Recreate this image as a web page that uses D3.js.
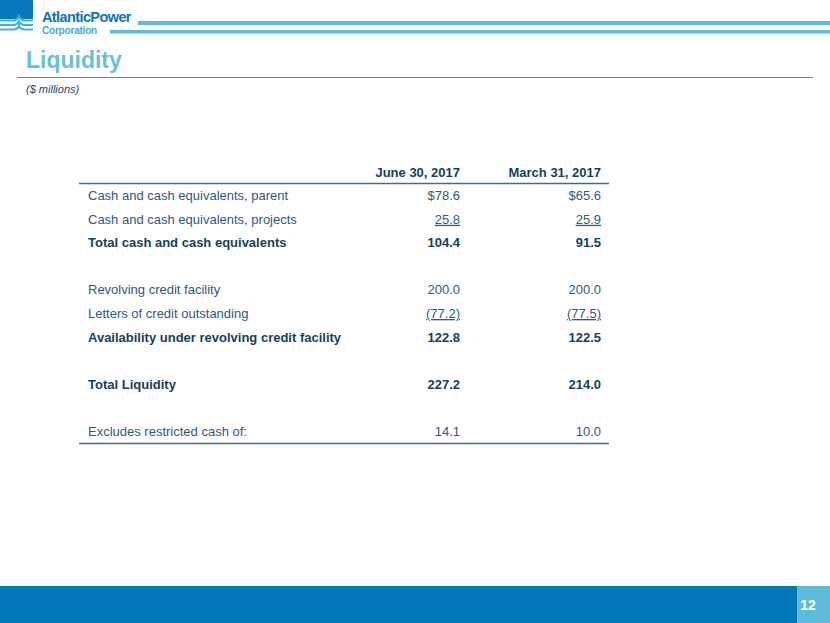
<!DOCTYPE html>
<html>
<head>
<meta charset="utf-8">
<script src="https://cdn.jsdelivr.net/npm/d3@7"></script>
<style>
  html, body { margin: 0; padding: 0; background: #fff; }
  svg { display: block; font-family: "Liberation Sans", Arial, sans-serif; }
</style>
</head>
<body>
<svg id="slide" width="830" height="623"></svg>
<script>
// table data
const columns = ['June 30, 2017', 'March 31, 2017'];
const rowLabels = [
  'Cash and cash equivalents, parent',
  'Cash and cash equivalents, projects',
  'Total cash and cash equivalents',
  '',
  'Revolving credit facility',
  'Letters of credit outstanding',
  'Availability  under revolving credit facility',
  '',
  'Total Liquidity',
  '',
  'Excludes restricted cash of:'
];
const june  = [78.6, 25.8, 104.4, null, 200.0, -77.2, 122.8, null, 227.2, null, 14.1];
const march = [65.6, 25.9, 91.5, null, 200.0, -77.5, 122.5, null, 214.0, null, 10.0];

// styling by row
const boldRows = [2, 6, 8];
const underlineRows = [1, 5];
const dollarRows = [0];

const svg = d3.select('#slide');
const W = 830, H = 623;
const dark = '#143f61', mid = '#2d5b7c', light = '#5cbcd9';

// header / logo
const logo = svg.append('g');
logo.append('rect').attr('x', 0).attr('y', 0).attr('width', 33).attr('height', 19).attr('fill', '#0a78bd');
[20.5, 25, 29.5].forEach((y, i) => {
  logo.append('path')
    .attr('d', `M0,${y} L14,${y} Q${18 + i},${y - 1} 19,${y - 4 - i} Q${20 - i},${y - 1} 24,${y} L33,${y}`)
    .attr('fill', 'none').attr('stroke', '#3fb0e0').attr('stroke-width', 2);
});
logo.append('text').attr('x', 42).attr('y', 21.5).attr('font-size', 14.5).attr('font-weight', 'bold')
  .attr('fill', '#0c74b8').attr('letter-spacing', -0.6).text('AtlanticPower');
logo.append('text').attr('x', 42).attr('y', 34).attr('font-size', 10).attr('font-weight', 'bold')
  .attr('fill', '#3fa9dc').attr('letter-spacing', -0.2).text('Corporation');

svg.append('rect').attr('x', 138).attr('y', 21).attr('width', W - 138).attr('height', 4).attr('fill', light);
svg.append('rect').attr('x', 110).attr('y', 30).attr('width', W - 110).attr('height', 3.5).attr('fill', light);

svg.append('text').attr('x', 26).attr('y', 68).attr('font-size', 23).attr('font-weight', 'bold')
  .attr('fill', '#69c0dd').text('Liquidity');
svg.append('line').attr('x1', 17).attr('x2', 813).attr('y1', 77.5).attr('y2', 77.5)
  .attr('stroke', '#5a8aa6').attr('stroke-width', 1.2);
svg.append('text').attr('x', 26).attr('y', 93).attr('font-size', 11).attr('font-style', 'italic')
  .attr('fill', '#1d4566').text('($ millions)');

// table
const y = d3.scaleBand().domain(d3.range(rowLabels.length)).range([184, 443]);
const x = d3.scaleOrdinal().domain(columns).range([460, 601]);
const fmt = d3.format('.1f');
const cell = (v, i) => {
  if (v == null) return '';
  const s = fmt(Math.abs(v));
  if (v < 0) return `(${s})`;
  return (dollarRows.includes(i) ? '$' : '') + s;
};

const table = svg.append('g').attr('font-size', 13);

table.selectAll('text.head').data(columns).join('text')
  .attr('class', 'head')
  .attr('x', d => x(d)).attr('y', 177)
  .attr('text-anchor', 'end').attr('font-weight', 'bold').attr('fill', dark)
  .text(d => d);

table.append('line').attr('x1', 79).attr('x2', 609).attr('y1', 183.5).attr('y2', 183.5)
  .attr('stroke', '#3f6f90').attr('stroke-width', 1.5);

const baseline = i => y(i) + y.bandwidth() / 2 + 4.5;

table.selectAll('text.label').data(rowLabels).join('text')
  .attr('class', 'label')
  .attr('x', 88).attr('y', (d, i) => baseline(i))
  .attr('font-weight', (d, i) => boldRows.includes(i) ? 'bold' : 'normal')
  .attr('fill', (d, i) => boldRows.includes(i) ? dark : mid)
  .text(d => d);

[june, march].forEach((series, c) => {
  table.selectAll(`text.val${c}`).data(series).join('text')
    .attr('class', `val${c}`)
    .attr('x', x(columns[c])).attr('y', (d, i) => baseline(i))
    .attr('text-anchor', 'end')
    .attr('font-weight', (d, i) => boldRows.includes(i) ? 'bold' : 'normal')
    .attr('fill', (d, i) => boldRows.includes(i) ? dark : mid)
    .attr('text-decoration', (d, i) => underlineRows.includes(i) ? 'underline' : 'none')
    .text((d, i) => cell(d, i));
});

table.append('line').attr('x1', 79).attr('x2', 609).attr('y1', 443.5).attr('y2', 443.5)
  .attr('stroke', '#3f6f90').attr('stroke-width', 1.5);

// footer
svg.append('rect').attr('x', 0).attr('y', 586).attr('width', W).attr('height', H - 586).attr('fill', '#0277b6');
svg.append('rect').attr('x', 797).attr('y', 586).attr('width', W - 797).attr('height', H - 586).attr('fill', '#5dbcd9');
svg.append('text').attr('x', 808).attr('y', 610).attr('text-anchor', 'middle').attr('font-size', 14)
  .attr('font-weight', 'bold').attr('fill', '#fff').text('12');
</script>
</body>
</html>
